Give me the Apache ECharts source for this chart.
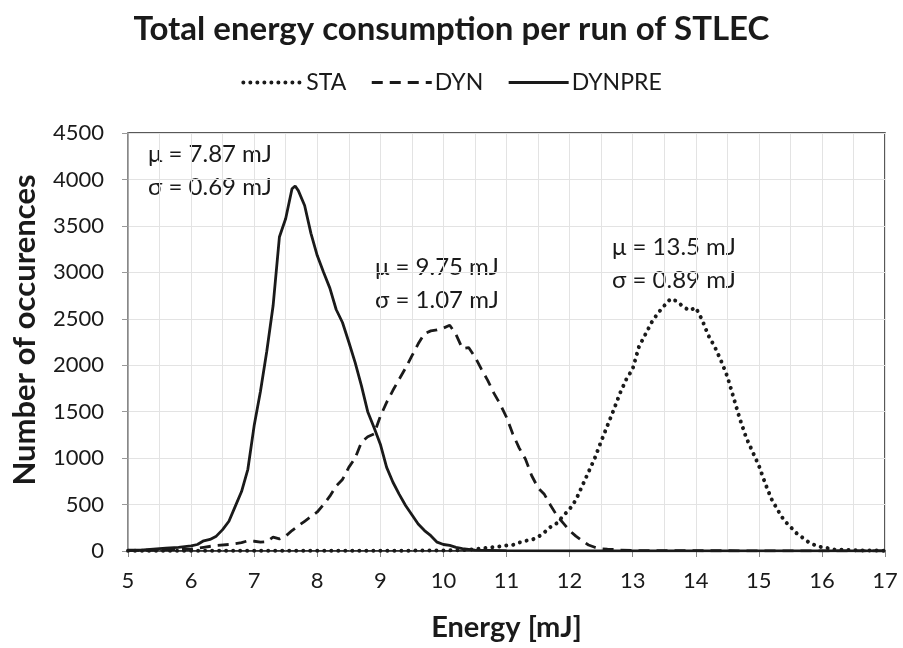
<!DOCTYPE html>
<html>
<head>
<meta charset="utf-8">
<script src="https://cdn.jsdelivr.net/npm/echarts@6/dist/echarts.min.js"></script>
<style>
  html, body { margin: 0; padding: 0; background: #fff; }
  #chart { width: 903px; height: 648px; }
</style>
</head>
<body>
<div id="chart"></div>
<script>
// energy [mJ] and number of occurences
var staE = [5, 6, 7, 8, 9, 10, 10.3, 10.5, 10.7, 10.9, 11.0, 11.1, 11.2, 11.3, 11.4, 11.5, 11.6, 11.7, 11.8, 11.9,
    12.0, 12.1, 12.2, 12.3, 12.4, 12.5, 12.6, 12.7, 12.8, 12.9, 13.0, 13.1, 13.2, 13.3, 13.4, 13.5, 13.6, 13.7, 13.8, 13.9,
    14.0, 14.1, 14.2, 14.3, 14.4, 14.5, 14.6, 14.7, 14.8, 14.9, 15.0, 15.1, 15.2, 15.3, 15.4, 15.5, 15.6, 15.7, 15.8, 15.9,
    16.0, 16.1, 16.2, 16.5, 17];
var staN = [2, 2, 2, 2, 3, 5, 10, 20, 35, 50, 60, 65, 90, 110, 120, 150, 200, 260, 300, 380,
    450, 550, 700, 850, 1000, 1180, 1350, 1520, 1700, 1850, 1960, 2200, 2330, 2460, 2560, 2640, 2715, 2690, 2630, 2590,
    2620, 2490, 2320, 2200, 2050, 1880, 1650, 1420, 1220, 1070, 920, 730, 560, 440, 330, 260, 190, 140, 90, 60,
    40, 30, 15, 8, 3];

var dynE = [5.0, 5.5, 6.0, 6.2, 6.4, 6.6, 6.8, 6.9, 7.0, 7.1, 7.2, 7.3, 7.4, 7.5, 7.6, 7.7, 7.8, 7.9,
    8.0, 8.1, 8.2, 8.3, 8.4, 8.5, 8.6, 8.7, 8.8, 8.9, 9.0, 9.1, 9.2, 9.3, 9.4, 9.5, 9.6, 9.7, 9.8, 9.9,
    10.0, 10.1, 10.2, 10.3, 10.4, 10.5, 10.6, 10.7, 10.8, 10.9, 11.0, 11.1, 11.2, 11.3, 11.4, 11.5, 11.6, 11.7, 11.8, 11.9,
    12.0, 12.1, 12.2, 12.3, 12.4, 12.5, 12.6, 12.7, 12.8, 13, 14, 15, 16, 17];
var dynN = [5, 10, 20, 40, 60, 70, 90, 110, 105, 95, 100, 150, 130, 160, 220, 270, 320, 370,
    420, 500, 590, 700, 770, 900, 1000, 1170, 1230, 1260, 1450, 1600, 1730, 1850, 1970, 2100, 2230, 2340, 2370, 2380,
    2400, 2430, 2330, 2180, 2190, 2090, 1960, 1840, 1700, 1580, 1440, 1260, 1110, 990, 810, 680, 610, 490, 380, 300,
    220, 160, 110, 65, 40, 25, 20, 18, 10, 5, 3, 2, 2, 2];

var preE = [5.0, 5.2, 5.4, 5.6, 5.8, 6.0, 6.1, 6.2, 6.3, 6.4, 6.5, 6.6, 6.7, 6.8, 6.9, 7.0, 7.1, 7.2, 7.3, 7.4, 7.5, 7.6, 7.65,
    7.7, 7.8, 7.9, 8.0, 8.1, 8.2, 8.3, 8.4, 8.5, 8.6, 8.7, 8.8, 8.9, 9.0, 9.1, 9.2, 9.3, 9.4, 9.5, 9.6, 9.7, 9.8, 9.9,
    10.0, 10.1, 10.2, 10.3, 10.5, 11, 12, 13, 14, 15, 16, 17];
var preN = [10, 10, 20, 30, 40, 55, 70, 110, 125, 160, 230, 320, 480, 640, 880, 1350, 1720, 2150, 2640, 3380, 3580, 3900, 3930,
    3880, 3720, 3420, 3180, 3000, 2830, 2600, 2460, 2250, 2030, 1780, 1500, 1330, 1150, 900, 740, 610, 490, 390, 290, 220, 165, 95,
    70, 60, 40, 25, 10, 3, 2, 2, 2, 2, 2, 2];

var seriesNames = ['STA', 'DYN', 'DYNPRE'];
var notes = [
    ['μ = 7.87 mJ', 'σ = 0.69 mJ'],
    ['μ = 9.75 mJ', 'σ = 1.07 mJ'],
    ['μ = 13.5 mJ', 'σ = 0.89 mJ']
];

function pairs(xs, ys) {
    return xs.map(function (x, i) { return [x, ys[i]]; });
}

var font = 'Lato, "Open Sans", sans-serif';
var ink = '#1a1a1a';

// line looks, shared by the series and their legend icons
var looks = {
    STA: { color: ink, width: 4, type: [0.01, 7], cap: 'round' },
    DYN: { color: ink, width: 2.8, type: [11, 7] },
    DYNPRE: { color: ink, width: 2.8, type: 'solid' }
};

var chart = echarts.init(document.getElementById('chart'));

function noteText(lines, left, top) {
    return {
        type: 'text',
        left: left,
        top: top,
        style: {
            text: lines.join('\n'),
            font: '24px ' + font,
            fill: ink,
            lineHeight: 33
        }
    };
}

var option = {
    animation: false,
    backgroundColor: '#fff',
    title: {
        text: 'Total energy consumption per run of STLEC',
        left: 'center',
        top: 8,
        textStyle: { fontFamily: font, fontSize: 33, fontWeight: 'bold', color: ink }
    },
    legend: {
        top: 66,
        left: 'center',
        itemWidth: 60,
        itemHeight: 12,
        itemGap: 24,
        data: seriesNames.map(function (n) {
            return { name: n, lineStyle: looks[n] };
        }),
        itemStyle: { opacity: 0 },
        textStyle: { fontFamily: font, fontSize: 23, color: ink, padding: [0, 0, 0, -2] }
    },
    grid: {
        left: 128,
        right: 18,
        top: 133,
        bottom: 97,
        show: true,
        borderColor: '#222',
        borderWidth: 1.5
    },
    xAxis: {
        type: 'value',
        min: 5,
        max: 17,
        interval: 1,
        name: 'Energy [mJ]',
        nameLocation: 'middle',
        nameGap: 62,
        nameTextStyle: { fontFamily: font, fontSize: 29, fontWeight: 'bold', color: ink },
        axisLine: { lineStyle: { color: '#222', width: 1.5 } },
        axisTick: { show: true, length: 6, lineStyle: { color: '#888' } },
        axisLabel: { fontFamily: font, fontSize: 22, color: ink, margin: 19 },
        splitLine: { show: true, lineStyle: { color: '#e3e3e3', width: 1 } },
        minorTick: { show: false, splitNumber: 2 },
        minorSplitLine: { show: true, lineStyle: { color: '#e3e3e3', width: 1 } }
    },
    yAxis: {
        type: 'value',
        min: 0,
        max: 4500,
        interval: 500,
        name: 'Number of occurences',
        nameLocation: 'middle',
        nameGap: 88,
        nameTextStyle: {
            fontFamily: font, fontSize: 31, fontWeight: 'bold', color: ink,
            padding: [0, 0, 0, 24]
        },
        axisLine: { show: true, lineStyle: { color: '#999', width: 1.5 } },
        axisTick: { show: true, length: 6, lineStyle: { color: '#999' } },
        axisLabel: {
            fontFamily: font, fontSize: 22, color: ink, margin: 24,
            formatter: function (v) { return String(v); }
        },
        splitLine: { show: true, lineStyle: { color: '#e3e3e3', width: 1 } }
    },
    series: [
        {
            name: 'STA',
            type: 'line',
            data: pairs(staE, staN),
            showSymbol: false,
            symbol: 'none',
            itemStyle: { color: ink },
            lineStyle: looks.STA,
            z: 3
        },
        {
            name: 'DYN',
            type: 'line',
            data: pairs(dynE, dynN),
            showSymbol: false,
            symbol: 'none',
            itemStyle: { color: ink },
            lineStyle: looks.DYN,
            z: 4
        },
        {
            name: 'DYNPRE',
            type: 'line',
            data: pairs(preE, preN),
            showSymbol: false,
            symbol: 'none',
            itemStyle: { color: ink },
            lineStyle: looks.DYNPRE,
            z: 5
        }
    ],
    graphic: [
        noteText(notes[0], 148, 138),
        noteText(notes[1], 375, 251),
        noteText(notes[2], 612, 231)
    ]
};

chart.setOption(option);
</script>
</body>
</html>
